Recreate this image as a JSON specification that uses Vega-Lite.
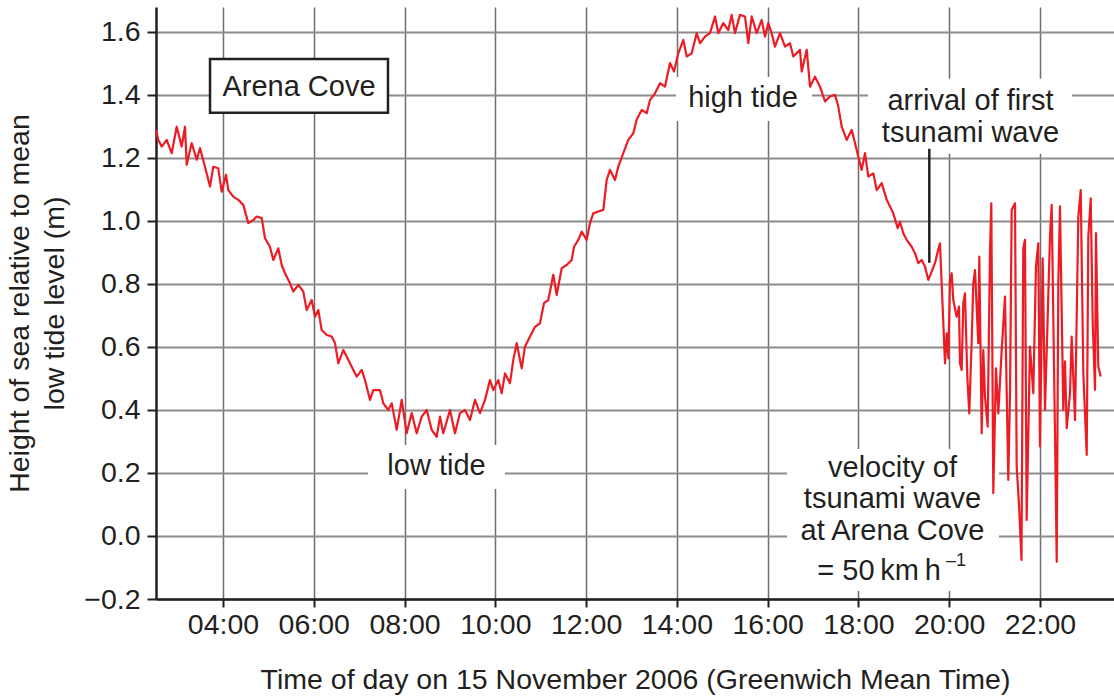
{
  "$schema": "https://vega.github.io/schema/vega-lite/v6.json",
  "width": 958,
  "height": 592,
  "autosize": {"type": "none"},
  "padding": {"left": 156, "top": 7, "right": 0, "bottom": 101},
  "background": "white",
  "config": {
    "font": "Liberation Sans",
    "view": {"stroke": null}
  },
  "datasets": {
    "tide": [
      {"t":2.524,"v":1.289},{"t":2.575,"v":1.257},{"t":2.649,"v":1.236},{"t":2.760,"v":1.257},{"t":2.870,"v":1.215},{"t":2.980,"v":1.299},{"t":3.090,"v":1.236},{"t":3.163,"v":1.299},{"t":3.200,"v":1.178},{"t":3.310,"v":1.247},{"t":3.421,"v":1.194},{"t":3.493,"v":1.231},{"t":3.603,"v":1.172},{"t":3.714,"v":1.109},{"t":3.786,"v":1.172},{"t":3.896,"v":1.167},{"t":3.971,"v":1.093},{"t":4.066,"v":1.146},{"t":4.117,"v":1.098},{"t":4.227,"v":1.077},{"t":4.337,"v":1.067},{"t":4.447,"v":1.051},{"t":4.557,"v":0.993},{"t":4.668,"v":1.003},{"t":4.742,"v":1.014},{"t":4.853,"v":1.009},{"t":4.925,"v":0.945},{"t":5.035,"v":0.918},{"t":5.108,"v":0.876},{"t":5.218,"v":0.913},{"t":5.293,"v":0.860},{"t":5.366,"v":0.834},{"t":5.476,"v":0.802},{"t":5.549,"v":0.776},{"t":5.659,"v":0.797},{"t":5.769,"v":0.776},{"t":5.844,"v":0.717},{"t":5.954,"v":0.749},{"t":6.027,"v":0.696},{"t":6.100,"v":0.717},{"t":6.174,"v":0.654},{"t":6.285,"v":0.638},{"t":6.395,"v":0.633},{"t":6.468,"v":0.612},{"t":6.540,"v":0.548},{"t":6.650,"v":0.590},{"t":6.760,"v":0.559},{"t":6.871,"v":0.527},{"t":6.946,"v":0.506},{"t":7.056,"v":0.527},{"t":7.128,"v":0.495},{"t":7.239,"v":0.432},{"t":7.311,"v":0.463},{"t":7.459,"v":0.463},{"t":7.532,"v":0.421},{"t":7.642,"v":0.400},{"t":7.717,"v":0.421},{"t":7.827,"v":0.337},{"t":7.937,"v":0.432},
      {"t":8.047,"v":0.326},{"t":8.157,"v":0.390},{"t":8.268,"v":0.326},{"t":8.378,"v":0.379},{"t":8.488,"v":0.400},{"t":8.598,"v":0.337},{"t":8.708,"v":0.315},{"t":8.781,"v":0.379},{"t":8.853,"v":0.326},{"t":9.001,"v":0.400},{"t":9.111,"v":0.326},{"t":9.221,"v":0.390},{"t":9.332,"v":0.400},{"t":9.442,"v":0.368},{"t":9.552,"v":0.432},{"t":9.662,"v":0.390},{"t":9.772,"v":0.432},{"t":9.882,"v":0.495},{"t":9.955,"v":0.463},{"t":10.065,"v":0.495},{"t":10.140,"v":0.453},{"t":10.213,"v":0.516},{"t":10.323,"v":0.485},{"t":10.396,"v":0.559},{"t":10.471,"v":0.612},{"t":10.581,"v":0.532},{"t":10.653,"v":0.601},{"t":10.764,"v":0.633},{"t":10.874,"v":0.664},{"t":10.984,"v":0.675},{"t":11.072,"v":0.739},{"t":11.167,"v":0.749},{"t":11.277,"v":0.829},{"t":11.352,"v":0.765},{"t":11.462,"v":0.850},{"t":11.572,"v":0.860},{"t":11.682,"v":0.876},{"t":11.733,"v":0.918},{"t":11.828,"v":0.940},{"t":11.903,"v":0.966},{"t":12.013,"v":0.940},{"t":12.085,"v":0.993},{"t":12.158,"v":1.024},{"t":12.268,"v":1.030},
      {"t":12.379,"v":1.035},{"t":12.453,"v":1.130},{"t":12.526,"v":1.162},{"t":12.636,"v":1.130},{"t":12.709,"v":1.172},{"t":12.819,"v":1.215},{"t":12.929,"v":1.257},{"t":13.039,"v":1.278},{"t":13.114,"v":1.321},{"t":13.224,"v":1.352},{"t":13.335,"v":1.342},{"t":13.407,"v":1.384},{"t":13.518,"v":1.405},{"t":13.628,"v":1.437},{"t":13.738,"v":1.426},{"t":13.848,"v":1.501},{"t":13.936,"v":1.474},{"t":14.031,"v":1.532},{"t":14.141,"v":1.575},{"t":14.216,"v":1.522},{"t":14.326,"v":1.532},{"t":14.436,"v":1.596},{"t":14.509,"v":1.564},{"t":14.619,"v":1.585},{"t":14.729,"v":1.596},{"t":14.839,"v":1.649},{"t":14.912,"v":1.596},{"t":15.022,"v":1.628},{"t":15.132,"v":1.606},{"t":15.207,"v":1.654},{"t":15.280,"v":1.596},{"t":15.390,"v":1.654},{"t":15.500,"v":1.649},{"t":15.573,"v":1.564},{"t":15.648,"v":1.649},{"t":15.758,"v":1.596},{"t":15.868,"v":1.638},{"t":15.941,"v":1.585},{"t":16.014,"v":1.628},{"t":16.088,"v":1.596},{"t":16.161,"v":1.553},{"t":16.271,"v":1.596},{"t":16.382,"v":1.553},{"t":16.492,"v":1.564},{"t":16.565,"v":1.522},{"t":16.712,"v":1.543},{"t":16.750,"v":1.474},{"t":16.860,"v":1.543},{"t":16.933,"v":1.426},{"t":17.043,"v":1.458},{"t":17.153,"v":1.426},{"t":17.263,"v":1.379},{"t":17.373,"v":1.395},{"t":17.483,"v":1.400},{"t":17.556,"v":1.363},{"t":17.631,"v":1.299},{"t":17.741,"v":1.257},{"t":17.851,"v":1.289},{"t":17.924,"v":1.247},{"t":17.996,"v":1.204},{"t":18.071,"v":1.162},{"t":18.144,"v":1.215},{"t":18.217,"v":1.141},{"t":18.327,"v":1.151},{"t":18.402,"v":1.098},{"t":18.512,"v":1.120},{"t":18.622,"v":1.067},{"t":18.695,"v":1.046},{"t":18.767,"v":1.024},{"t":18.864,"v":0.977},
      {"t":18.915,"v":0.997},{"t":18.988,"v":0.961},{"t":19.063,"v":0.940},{"t":19.173,"v":0.918},{"t":19.246,"v":0.897},{"t":19.318,"v":0.866},{"t":19.393,"v":0.876},{"t":19.466,"v":0.855},{"t":19.539,"v":0.813},{"t":19.613,"v":0.839},{"t":19.686,"v":0.866},{"t":19.737,"v":0.897},{"t":19.796,"v":0.929},
      {"t":19.907,"v":0.548},{"t":19.944,"v":0.643},{"t":19.979,"v":0.564},{"t":20.017,"v":0.813},{"t":20.054,"v":0.834},{"t":20.089,"v":0.749},{"t":20.164,"v":0.696},{"t":20.215,"v":0.728},{"t":20.237,"v":0.548},{"t":20.274,"v":0.527},{"t":20.310,"v":0.739},{"t":20.347,"v":0.770},{"t":20.398,"v":0.506},{"t":20.442,"v":0.389},{"t":20.495,"v":0.622},{"t":20.530,"v":0.802},{"t":20.568,"v":0.844},{"t":20.640,"v":0.612},{"t":20.662,"v":0.887},{"t":20.715,"v":0.326},{"t":20.750,"v":0.590},{"t":20.788,"v":0.442},{"t":20.847,"v":0.347},{"t":20.898,"v":0.903},{"t":20.927,"v":1.056},{"t":20.971,"v":0.136},{"t":21.030,"v":0.532},{"t":21.081,"v":0.389},{"t":21.156,"v":0.590},{"t":21.228,"v":0.760},{"t":21.301,"v":0.178},{"t":21.339,"v":0.453},{"t":21.376,"v":1.035},{"t":21.449,"v":1.056},{"t":21.486,"v":0.220},{"t":21.537,"v":0.100},{"t":21.592,"v":-0.076},{"t":21.631,"v":0.913},{"t":21.669,"v":0.940},{"t":21.706,"v":0.051},{"t":21.779,"v":0.601},{"t":21.852,"v":0.453},{"t":21.911,"v":0.855},{"t":21.962,"v":0.929},{"t":21.999,"v":0.284},{"t":22.059,"v":0.881},{"t":22.110,"v":0.400},{"t":22.220,"v":0.950},{"t":22.257,"v":1.051},{"t":22.330,"v":0.326},{"t":22.368,"v":-0.082},{"t":22.403,"v":0.802},{"t":22.440,"v":1.046},{"t":22.513,"v":0.400},{"t":22.550,"v":0.554},{"t":22.588,"v":0.342},{"t":22.661,"v":0.453},{"t":22.698,"v":0.633},{"t":22.771,"v":0.368},{"t":22.844,"v":1.014},{"t":22.897,"v":1.098},{"t":22.954,"v":0.517},{"t":23.029,"v":0.257},{"t":23.064,"v":0.950},{"t":23.117,"v":1.072},{"t":23.161,"v":0.675},{"t":23.212,"v":0.464},{"t":23.233,"v":0.961},{"t":23.284,"v":0.538},{"t":23.337,"v":0.506}
    ],
    "boxes": [
      {"t":13.980,"t2":16.976,"v":1.457,"v2":1.317},
      {"t":18.210,"t2":22.705,"v":1.451,"v2":1.213},
      {"t":7.195,"t2":10.213,"v":0.289,"v2":0.149},
      {"t":16.426,"t2":21.096,"v":0.276,"v2":-0.175}
    ],
    "framed": [
      {"t":3.714,"t2":7.635,"v":1.514,"v2":1.343}
    ],
    "pointer": [
      {"t":19.561,"v":1.229,"v2":0.867}
    ],
    "labels": [
      {"label":"Arena Cove","t":5.674,"v":1.397},
      {"label":"high tide","t":15.456,"v":1.362},
      {"label":"arrival of first","t":20.468,"v":1.352},
      {"label":"tsunami wave","t":20.468,"v":1.251},
      {"label":"low tide","t":8.704,"v":0.194},
      {"label":"velocity of","t":18.750,"v":0.187},
      {"label":"tsunami wave","t":18.750,"v":0.089},
      {"label":"at Arena Cove","t":18.750,"v":-0.014}
    ],
    "eq": [
      {"label":"= 50\u2009km\u2009h","t":19.818,"v":-0.140}
    ],
    "sup": [
      {"label":"–1","t":19.93,"v":-0.094}
    ]
  },
  "encoding": {
    "x": {
      "field": "t",
      "type": "quantitative",
      "scale": {"domain": [2.524, 23.63], "nice": false, "zero": false},
      "axis": {
        "values": [4, 6, 8, 10, 12, 14, 16, 18, 20, 22],
        "labelExpr": "(datum.value < 10 ? '0' : '') + datum.value + ':00'",
        "title": "Time of day on 15 November 2006 (Greenwich Mean Time)",
        "grid": true,
        "gridColor": "#6e6e6e",
        "gridWidth": 1.5,
        "domainColor": "#231f20",
        "domainWidth": 2.5,
        "tickColor": "#231f20",
        "tickWidth": 2,
        "tickSize": 8,
        "labelFontSize": 28.5,
        "labelColor": "#231f20",
        "labelPadding": 3,
        "labelFlush": false,
        "titleFontSize": 28.5,
        "titleFontWeight": "normal",
        "titleColor": "#231f20",
        "titlePadding": 27
      }
    },
    "y": {
      "field": "v",
      "type": "quantitative",
      "scale": {"domain": [-0.2, 1.679], "nice": false, "zero": false},
      "axis": {
        "values": [-0.2, 0, 0.2, 0.4, 0.6, 0.8, 1.0, 1.2, 1.4, 1.6],
        "format": ".1f",
        "title": ["Height of sea relative to mean", "low tide level (m)"],
        "grid": true,
        "gridColor": "#8c8c8c",
        "gridWidth": 2,
        "domainColor": "#231f20",
        "domainWidth": 2.5,
        "tickColor": "#231f20",
        "tickWidth": 2,
        "tickSize": 9,
        "labelFontSize": 28.5,
        "labelColor": "#231f20",
        "labelPadding": 7,
        "labelFlush": false,
        "titleFontSize": 28.5,
        "titleFontWeight": "normal",
        "titleColor": "#231f20",
        "titlePadding": 14,
        "titleLineHeight": 35
      }
    }
  },
  "layer": [
    {
      "data": {"name": "boxes"},
      "mark": {"type": "rect", "fill": "white"},
      "encoding": {"x2": {"field": "t2"}, "y2": {"field": "v2"}}
    },
    {
      "data": {"name": "framed"},
      "mark": {"type": "rect", "fill": "white", "stroke": "#231f20", "strokeWidth": 2.5},
      "encoding": {"x2": {"field": "t2"}, "y2": {"field": "v2"}}
    },
    {
      "data": {"name": "tide"},
      "mark": {"type": "line", "color": "#ed1c24", "strokeWidth": 2.2, "strokeJoin": "round"},
      "encoding": {"order": {"field": "t"}}
    },
    {
      "data": {"name": "pointer"},
      "mark": {"type": "rule", "color": "#231f20", "strokeWidth": 2.5},
      "encoding": {"y2": {"field": "v2"}}
    },
    {
      "data": {"name": "labels"},
      "mark": {"type": "text", "fontSize": 29, "color": "#231f20", "align": "center", "baseline": "alphabetic"},
      "encoding": {"text": {"field": "label"}}
    },
    {
      "data": {"name": "eq"},
      "mark": {"type": "text", "fontSize": 29, "color": "#231f20", "align": "right", "baseline": "alphabetic"},
      "encoding": {"text": {"field": "label"}}
    },
    {
      "data": {"name": "sup"},
      "mark": {"type": "text", "fontSize": 18, "color": "#231f20", "align": "left", "baseline": "alphabetic"},
      "encoding": {"text": {"field": "label"}}
    }
  ]
}
